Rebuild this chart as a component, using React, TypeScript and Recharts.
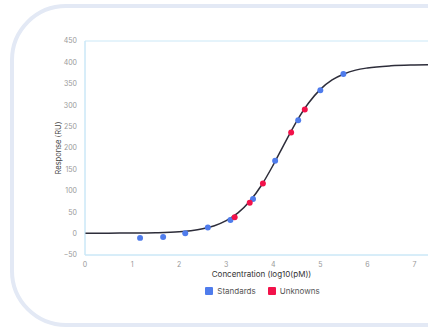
import {
    ComposedChart,
    Line,
    Scatter,
    XAxis,
    YAxis,
    ZAxis,
    ReferenceArea,
    Legend,
} from 'recharts';

// fitted curve
const curveX = [0, 0.5, 1, 1.5, 2, 2.25, 2.5, 2.75, 3, 3.25, 3.5, 3.75, 4, 4.25, 4.5, 4.75, 5, 5.25, 5.5, 5.75, 6, 6.5, 7, 7.5];
const curveY = [1, 1.1, 1.3, 2, 4.2, 6.8, 11.2, 18.4, 30.2, 48.3, 75.5, 113, 160.5, 212.7, 263, 305, 337, 359, 373, 382, 387, 392, 394, 395];

const standardsX = [1.17, 1.66, 2.13, 2.61, 3.09, 3.57, 4.04, 4.53, 5.0, 5.49];
const standardsY = [-10, -8, 1, 14, 32, 81, 170, 265, 335, 373];

const unknownsX = [3.18, 3.5, 3.78, 4.38, 4.67];
const unknownsY = [38, 72, 117, 236, 290];

const xTicks = [0, 1, 2, 3, 4, 5, 6, 7];
const yTicks = [-50, 0, 50, 100, 150, 200, 250, 300, 350, 400, 450];

const BLUE = '#4f7cec';
const RED = '#f2124a';
const BORDER = '#cbe8f7';

const curveData = curveX.map((x, i) => ({ x, y: curveY[i] }));
const standardsData = standardsX.map((x, i) => ({ x, y: standardsY[i] }));
const unknownsData = unknownsX.map((x, i) => ({ x, y: unknownsY[i] }));

function LegendContent() {
    const items = [
        { label: 'Standards', color: BLUE },
        { label: 'Unknowns', color: RED },
    ];
    return (
        <div style={{ display: 'flex', justifyContent: 'center', alignItems: 'center', gap: 12 }}>
            {items.map((it) => (
                <div key={it.label} style={{ display: 'flex', alignItems: 'center', gap: 4 }}>
                    <span style={{ width: 8, height: 8, background: it.color, display: 'inline-block', borderRadius: 1 }} />
                    <span style={{ fontSize: 8, color: '#555' }}>{it.label}</span>
                </div>
            ))}
        </div>
    );
}

export default function App() {
    return (
        <div
            style={{
                position: 'fixed',
                left: 0,
                top: 0,
                width: 428,
                height: 327,
                overflow: 'hidden',
                background: '#fff',
                fontFamily: 'Inter, sans-serif',
            }}
        >
            <div
                style={{
                    position: 'absolute',
                    left: 10,
                    top: 4,
                    width: 520,
                    height: 323,
                    boxSizing: 'border-box',
                    border: '4px solid #e3e9f5',
                    borderRadius: 56,
                }}
            />
            <div style={{ position: 'absolute', left: 0, top: 0 }}>
                <ComposedChart
                    width={470}
                    height={300}
                    margin={{ top: 41, right: 32, left: 45, bottom: 15 }}
                >
                    <ReferenceArea x1={0} x2={7.5} y1={-50} y2={450} fill="none" stroke={BORDER} strokeWidth={1} />
                    <XAxis
                        type="number"
                        dataKey="x"
                        domain={[0, 7.5]}
                        ticks={xTicks}
                        allowDataOverflow
                        height={30}
                        axisLine={{ stroke: BORDER }}
                        tickLine={false}
                        tickSize={0}
                        tickMargin={7}
                        tick={{ fontSize: 7, fill: '#999' }}
                        label={{
                            value: 'Concentration (log10(pM))',
                            position: 'insideBottom',
                            offset: 8,
                            style: { fontSize: 8, fill: '#333' },
                        }}
                    />
                    <YAxis
                        type="number"
                        dataKey="y"
                        domain={[-50, 450]}
                        ticks={yTicks}
                        width={40}
                        axisLine={{ stroke: BORDER }}
                        tickLine={false}
                        tickSize={0}
                        tickMargin={8}
                        tick={{ fontSize: 7, fill: '#999' }}
                        tickFormatter={(v: number) => (v < 0 ? `\u2212${-v}` : `${v}`)}
                        label={{
                            value: 'Response (RU)',
                            angle: -90,
                            position: 'insideLeft',
                            offset: 13,
                            style: { fontSize: 7.5, fill: '#444', textAnchor: 'middle' },
                        }}
                    />
                    <ZAxis range={[28, 28]} />
                    <Line
                        data={curveData}
                        dataKey="y"
                        type="monotone"
                        stroke="#2d2d3a"
                        strokeWidth={1.5}
                        dot={false}
                        activeDot={false}
                        isAnimationActive={false}
                        legendType="none"
                    />
                    <Scatter name="Standards" data={standardsData} fill={BLUE} isAnimationActive={false} />
                    <Scatter name="Unknowns" data={unknownsData} fill={RED} isAnimationActive={false} />
                    <Legend
                        layout="horizontal"
                        verticalAlign="middle"
                        align="center"
                        content={<LegendContent />}
                        wrapperStyle={{ left: 0, top: 286, width: 525 }}
                    />
                </ComposedChart>
            </div>
        </div>
    );
}
